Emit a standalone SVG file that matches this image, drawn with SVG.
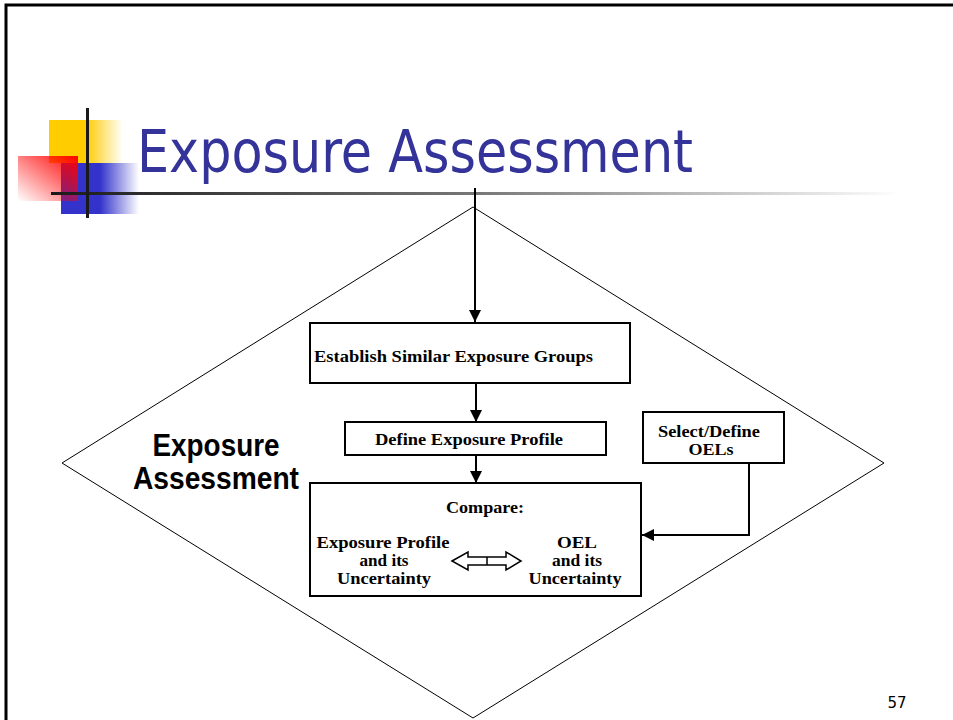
<svg xmlns="http://www.w3.org/2000/svg" width="953" height="720" viewBox="0 0 953 720">
  <style>
    .box { fill: #ffffff; stroke: #000000; stroke-width: 2; }
    .conn { fill: none; stroke: #000000; stroke-width: 2; }
    .lbl { font-family: "Liberation Serif", "Times New Roman", serif; font-weight: bold; font-size: 16px; fill: #000000; text-anchor: middle; }
    .side { font-family: "Liberation Sans", Arial, sans-serif; font-weight: bold; font-size: 32px; fill: #000000; text-anchor: middle; }
  </style>
  <defs>
    <marker id="arrow" viewBox="0 0 10 10" refX="10" refY="5" markerWidth="6" markerHeight="6" orient="auto" markerUnits="strokeWidth">
      <path d="M0,0 L10,5 L0,10 z" fill="#000000"/>
    </marker>
    <linearGradient id="yellowFade" x1="0" y1="0" x2="1" y2="0">
      <stop offset="0" stop-color="#ffcc00"/>
      <stop offset="0.5" stop-color="#ffcc00"/>
      <stop offset="1" stop-color="#ffcc00" stop-opacity="0"/>
    </linearGradient>
    <linearGradient id="blueFade" x1="0" y1="0" x2="1" y2="0">
      <stop offset="0" stop-color="#3333cc"/>
      <stop offset="0.5" stop-color="#3333cc"/>
      <stop offset="1" stop-color="#3333cc" stop-opacity="0"/>
    </linearGradient>
    <linearGradient id="redFade" x1="1" y1="0" x2="0" y2="1">
      <stop offset="0" stop-color="#ff0000"/>
      <stop offset="1" stop-color="#ff0000" stop-opacity="0"/>
    </linearGradient>
    <linearGradient id="ruleFade" x1="0" y1="0" x2="1" y2="0">
      <stop offset="0" stop-color="#1a1a1a"/>
      <stop offset="0.5" stop-color="#777777"/>
      <stop offset="1" stop-color="#ffffff"/>
    </linearGradient>
  </defs>

  <rect width="953" height="720" fill="#ffffff"/>
  <!-- slide frame -->
  <path d="M6,720 V5 H953" fill="none" stroke="#000000" stroke-width="3"/>

  <!-- title decoration -->
  <g id="title-logo">
    <rect x="49" y="120" width="74" height="43" fill="url(#yellowFade)"/>
    <rect x="61" y="163" width="78" height="51" fill="url(#blueFade)"/>
    <rect x="18" y="156" width="60" height="45" fill="url(#redFade)"/>
    <rect x="51" y="192" width="850" height="3" fill="url(#ruleFade)"/>
    <rect x="86" y="108" width="3" height="110" fill="#1a1a1a"/>
  </g>
  <g id="title">
    <text x="137" y="172" font-family="'DejaVu Sans Condensed', 'DejaVu Sans', sans-serif" font-size="59" fill="#333399" textLength="556" lengthAdjust="spacingAndGlyphs">Exposure Assessment</text>
  </g>

  <!-- outer diamond -->
  <g id="diamond">
    <polygon points="473,207 884,463 473,718 62,463" fill="none" stroke="#000000" stroke-width="1"/>
    <text class="side" x="216" y="456" textLength="127" lengthAdjust="spacingAndGlyphs">Exposure</text>
    <text class="side" x="216" y="489" textLength="166" lengthAdjust="spacingAndGlyphs">Assessment</text>
  </g>

  <g id="connectors">
    <line class="conn" x1="475" y1="188" x2="475" y2="322" marker-end="url(#arrow)"/>
    <line class="conn" x1="476" y1="384" x2="476" y2="422" marker-end="url(#arrow)"/>
    <line class="conn" x1="476" y1="455" x2="476" y2="483" marker-end="url(#arrow)"/>
    <polyline class="conn" points="749,463 749,535 642,535" marker-end="url(#arrow)"/>
  </g>

  <g id="establish-groups">
    <rect class="box" x="310" y="323" width="320" height="60"/>
    <text class="lbl" x="314" y="362" style="text-anchor:start" textLength="279" lengthAdjust="spacingAndGlyphs">Establish Similar Exposure Groups</text>
  </g>

  <g id="define-profile">
    <rect class="box" x="345" y="422" width="261" height="33"/>
    <text class="lbl" x="469" y="445" textLength="188" lengthAdjust="spacingAndGlyphs">Define Exposure Profile</text>
  </g>

  <g id="select-oels">
    <rect class="box" x="643" y="412" width="141" height="51"/>
    <text class="lbl" x="709" y="437" textLength="102" lengthAdjust="spacingAndGlyphs">Select/Define</text>
    <text class="lbl" x="711" y="455" textLength="45" lengthAdjust="spacingAndGlyphs">OELs</text>
  </g>

  <g id="compare">
    <rect class="box" x="310" y="483" width="331" height="113"/>
    <text class="lbl" x="485" y="513" textLength="78" lengthAdjust="spacingAndGlyphs">Compare:</text>
    <text class="lbl" x="383" y="548" textLength="133" lengthAdjust="spacingAndGlyphs">Exposure Profile</text>
    <text class="lbl" x="384" y="566" textLength="49" lengthAdjust="spacingAndGlyphs">and its</text>
    <text class="lbl" x="384" y="584" textLength="94" lengthAdjust="spacingAndGlyphs">Uncertainty</text>
    <text class="lbl" x="577" y="548" textLength="40" lengthAdjust="spacingAndGlyphs">OEL</text>
    <text class="lbl" x="577" y="566" textLength="50" lengthAdjust="spacingAndGlyphs">and its</text>
    <text class="lbl" x="575" y="584" textLength="93" lengthAdjust="spacingAndGlyphs">Uncertainty</text>
    <path d="M452,561 L468,552 L468,557 L506,557 L506,552 L521,561 L506,570 L506,565 L468,565 L468,570 Z M487,557 V565" fill="#ffffff" stroke="#000000" stroke-width="1.5"/>
  </g>

  <g id="page-number">
    <text x="897" y="708" font-family="'DejaVu Sans', sans-serif" font-size="15" text-anchor="middle">57</text>
  </g>
</svg>
